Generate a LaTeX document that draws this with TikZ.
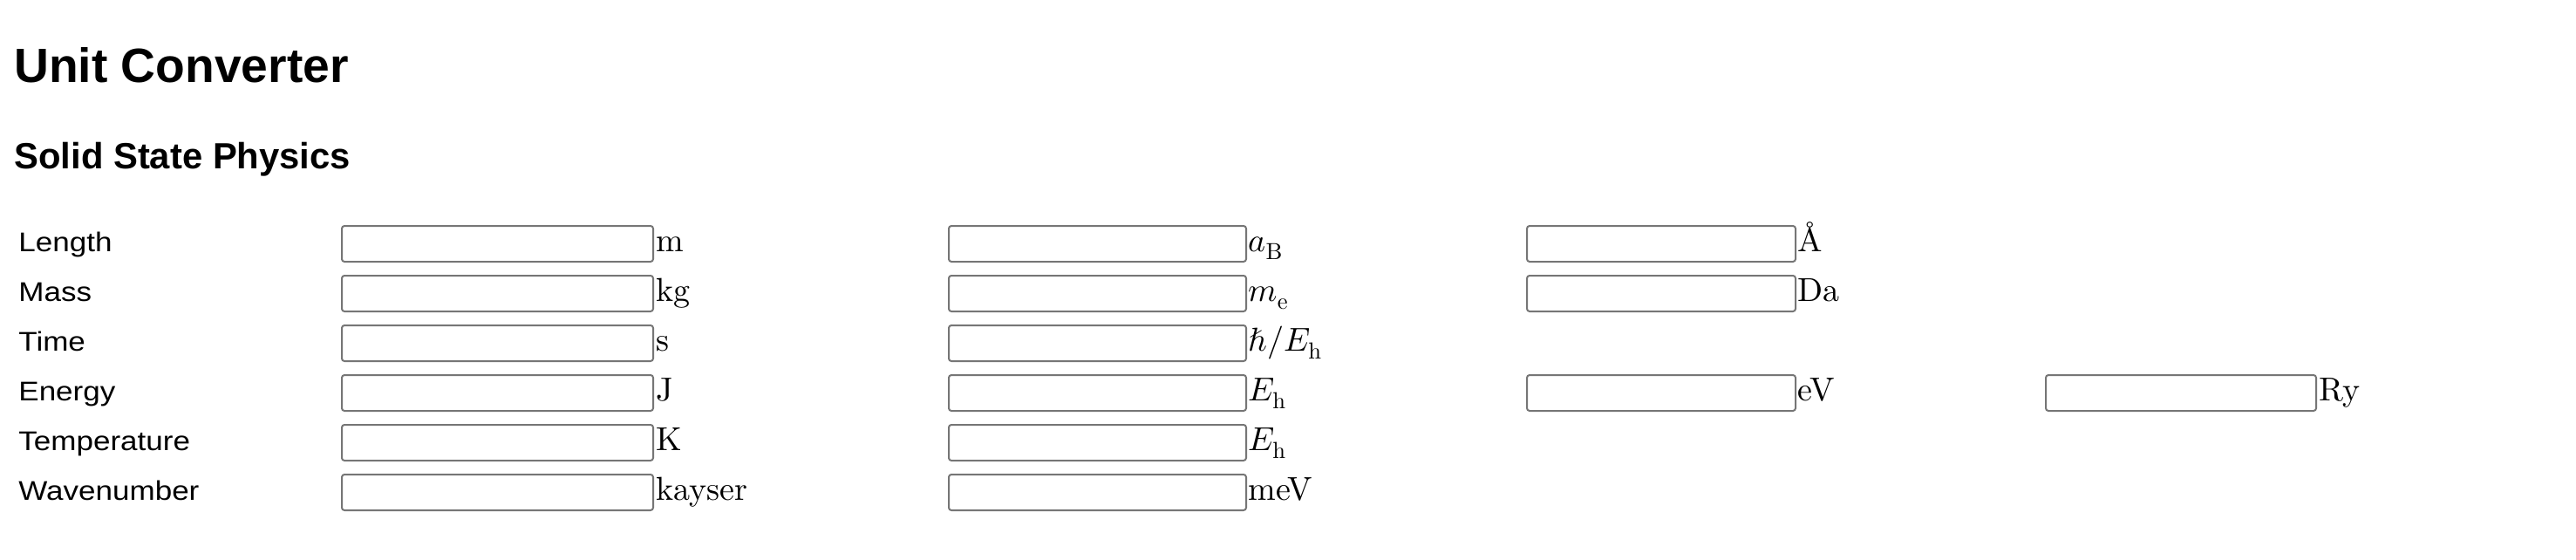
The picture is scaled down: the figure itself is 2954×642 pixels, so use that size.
\documentclass[tikz,border=0pt]{standalone}
\usepackage{fontspec}
\usepackage{unicode-math}
\setsansfont{Liberation Sans}
\setmainfont{lmroman10-regular.otf}
\setmathfont{Latin Modern Math}
\newfontfamily\lblfont[FakeStretch=1.13]{Liberation Sans}
\definecolor{boxgray}{HTML}{767676}
\begin{document}
\begin{tikzpicture}[x=0.5pt,y=-0.5pt,
  fieldbox/.style={draw=boxgray,line width=1pt,rounded corners=1.5pt,fill=white,inner sep=0pt,anchor=north west,minimum height=20.5pt},
  wA/.style={minimum width=178.5pt},
  wB/.style={minimum width=170.5pt},
  wC/.style={minimum width=154pt},
  wD/.style={minimum width=155pt},
  unitlbl/.style={anchor=base west,inner sep=0pt,font=\fontsize{19}{23}\selectfont},
  rowlbl/.style={anchor=base west,inner sep=0pt,font=\lblfont\fontsize{15.5}{19}\selectfont},
  htitle/.style={anchor=base west,inner sep=0pt,font=\sffamily\bfseries\fontsize{27.6}{32}\selectfont},
  hsub/.style={anchor=base west,inner sep=0pt,font=\sffamily\bfseries\fontsize{20.9}{25}\selectfont}]
\useasboundingbox[fill=white] (0,0) rectangle (2954,642);
\node[htitle] (title) at (16,95) {Unit Converter};
\node[hsub] (sub) at (16,193) {Solid State Physics};
% row labels
\node[rowlbl] (lLen) at (21,288) {Length};
\node[rowlbl] (lMass) at (21,345) {Mass};
\node[rowlbl] (lTime) at (21,402) {Time};
\node[rowlbl] (lEn) at (21,459) {Energy};
\node[rowlbl] (lTemp) at (21,516) {Temperature};
\node[rowlbl] (lWave) at (21,573) {Wavenumber};
% row 1
\node[fieldbox,wA] (b11) at (391,258) {};
\node[unitlbl] (u11) at (752,288) {m};
\node[fieldbox,wB] (b12) at (1087,258) {};
\node[unitlbl] (u12) at (1431,288) {$a_{\mathrm{B}}$};
\node[fieldbox,wC] (b13) at (1750,258) {};
\node[unitlbl] (u13) at (2061,288) {Å};
% row 2
\node[fieldbox,wA] (b21) at (391,315) {};
\node[unitlbl] (u21) at (752,345) {kg};
\node[fieldbox,wB] (b22) at (1087,315) {};
\node[unitlbl] (u22) at (1431,345) {$m_{\mathrm{e}}$};
\node[fieldbox,wC] (b23) at (1750,315) {};
\node[unitlbl] (u23) at (2061,345) {Da};
% row 3
\node[fieldbox,wA] (b31) at (391,372) {};
\node[unitlbl] (u31) at (752,402) {s};
\node[fieldbox,wB] (b32) at (1087,372) {};
\node[unitlbl] (u32) at (1431,402) {$\hbar/E_{\mathrm{h}}$};
% row 4
\node[fieldbox,wA] (b41) at (391,429) {};
\node[unitlbl] (u41) at (752,459) {J};
\node[fieldbox,wB] (b42) at (1087,429) {};
\node[unitlbl] (u42) at (1431,459) {$E_{\mathrm{h}}$};
\node[fieldbox,wC] (b43) at (1750,429) {};
\node[unitlbl] (u43) at (2061,459) {eV};
\node[fieldbox,wD] (b44) at (2345,429) {};
\node[unitlbl] (u44) at (2659,459) {Ry};
% row 5
\node[fieldbox,wA] (b51) at (391,486) {};
\node[unitlbl] (u51) at (752,516) {K};
\node[fieldbox,wB] (b52) at (1087,486) {};
\node[unitlbl] (u52) at (1431,516) {$E_{\mathrm{h}}$};
% row 6
\node[fieldbox,wA] (b61) at (391,543) {};
\node[unitlbl] (u61) at (752,573) {kayser};
\node[fieldbox,wB] (b62) at (1087,543) {};
\node[unitlbl] (u62) at (1431,573) {meV};
\end{tikzpicture}
\end{document}
